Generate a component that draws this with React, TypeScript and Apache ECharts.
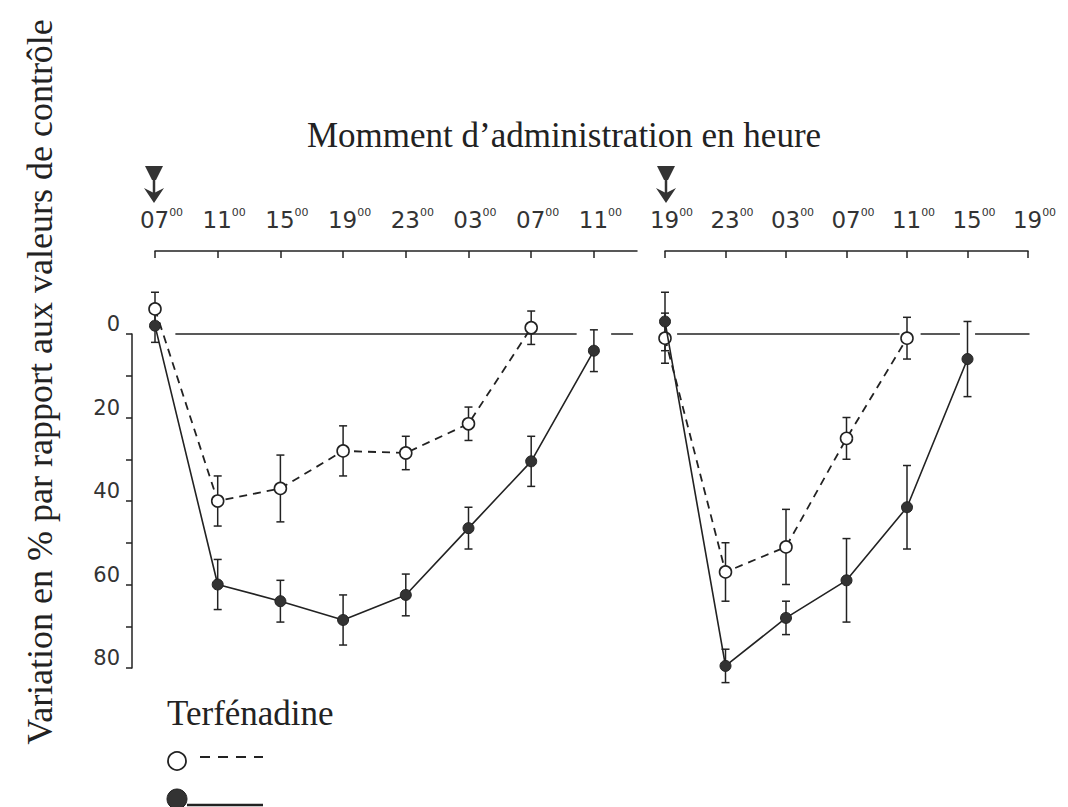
import React, { useEffect, useRef } from 'react';
import * as echarts from 'echarts';

// ---- Data (values in % variation vs control; time in hours after administration) ----
const leftTimes = [0, 4, 8, 12, 16, 20, 24, 28];
const leftHourLabels = ['07', '11', '15', '19', '23', '03', '07', '11'];
const leftOpen = [-6, 40, 37, 28, 28.5, 21.5, -1.5];
const leftOpenErr = [4, 6, 8, 6, 4, 4, 4];
const leftFilled = [-2, 60, 64, 68.5, 62.5, 46.5, 30.5, 4];
const leftFilledErr = [4, 6, 5, 6, 5, 5, 6, 5];

const rightTimes = [0, 4, 8, 12, 16, 20, 24];
const rightHourLabels = ['19', '23', '03', '07', '11', '15', '19'];
const rightOpen = [1, 57, 51, 25, 1];
const rightOpenErr = [6, 7, 9, 5, 5];
const rightFilled = [-3, 79.5, 68, 59, 41.5, 6];
const rightFilledErr = [7, 4, 4, 10, 10, 9];

const leftZeroSegments = [[1.3, 26.9], [29.1, 30.5]];
const rightZeroSegments = [[0.8, 15.5], [16.9, 19.5], [20.5, 24.1]];

const titleText = 'Momment d\u2019administration en heure';
const yTitleText = 'Variation en % par rapport aux valeurs de contr\u00f4le';
const legendTitle = 'Terf\u00e9nadine';

const INK = '#222';
const SERIF = '"Liberation Serif", "Times New Roman", serif';
const SANS = '"DejaVu Sans", sans-serif';

function pairs(times: number[], vals: number[]) {
  return vals.map((v, i) => [times[i], v]);
}
function triples(times: number[], vals: number[], errs: number[]) {
  return vals.map((v, i) => [times[i], v, errs[i]]);
}

const errorRender = (params: any, api: any) => {
  const x = api.value(0);
  const y = api.value(1);
  const e = api.value(2);
  const top = api.coord([x, y - e]);
  const bot = api.coord([x, y + e]);
  const w = 4;
  const st = { stroke: INK, lineWidth: 1.5 };
  return {
    type: 'group',
    children: [
      { type: 'line', shape: { x1: top[0], y1: top[1], x2: bot[0], y2: bot[1] }, style: st },
      { type: 'line', shape: { x1: top[0] - w, y1: top[1], x2: top[0] + w, y2: top[1] }, style: st },
      { type: 'line', shape: { x1: bot[0] - w, y1: bot[1], x2: bot[0] + w, y2: bot[1] }, style: st },
    ],
  };
};

const zeroRender = (params: any, api: any) => {
  const a = api.coord([api.value(0), 0]);
  const b = api.coord([api.value(1), 0]);
  return {
    type: 'line',
    shape: { x1: a[0], y1: a[1], x2: b[0], y2: b[1] },
    style: { stroke: INK, lineWidth: 1.5 },
  };
};

const richLabel = {
  h: { fontFamily: SANS, fontSize: 23, color: '#333', lineHeight: 26, padding: [0, 0, 0, 13] },
  m: { fontFamily: SANS, fontSize: 11, color: '#333', lineHeight: 12, verticalAlign: 'top' },
};

function makeXAxis(gridIndex: number, times: number[], labels: string[], max: number) {
  return {
    type: 'value',
    gridIndex,
    position: 'top',
    min: 0,
    max,
    interval: 4,
    offset: 83,
    axisLine: { show: true, onZero: false, lineStyle: { color: INK, width: 1.5 } },
    axisTick: { show: true, inside: true, length: 7, customValues: times, lineStyle: { color: INK, width: 1.5 } },
    axisLabel: {
      show: true,
      customValues: times,
      margin: 18,
      showMinLabel: true,
      showMaxLabel: true,
      hideOverlap: false,
      interval: 0,
      formatter: (v: number) => {
        const i = times.indexOf(v);
        if (i < 0) return '';
        return `{h|${labels[i]}}{m|00}`;
      },
      rich: richLabel,
    },
    splitLine: { show: false },
  };
}

function makeYAxis(gridIndex: number, show: boolean) {
  return {
    type: 'value',
    gridIndex,
    show,
    min: 0,
    max: 80,
    interval: 10,
    inverse: true,
    offset: 23,
    position: 'left',
    axisLine: { show: true, onZero: false, lineStyle: { color: INK, width: 1.5 } },
    axisTick: { show: true, length: 6, lineStyle: { color: INK, width: 1.5 } },
    axisLabel: {
      margin: 12,
      fontFamily: SANS,
      fontSize: 21,
      color: '#333',
      verticalAlign: 'bottom',
      lineHeight: 20,
      formatter: (v: number) => (v % 20 === 0 ? String(v) : ''),
    },
    splitLine: { show: false },
  };
}

function seriesFor(idx: number, times: number[], open: number[], openErr: number[], filled: number[], filledErr: number[], zeroSegs: number[][]) {
  return [
    {
      type: 'custom',
      xAxisIndex: idx,
      yAxisIndex: idx,
      clip: false,
      z: 1,
      silent: true,
      renderItem: zeroRender,
      encode: { x: [0, 1] },
      data: zeroSegs,
    },
    {
      type: 'custom',
      xAxisIndex: idx,
      yAxisIndex: idx,
      clip: false,
      z: 2,
      renderItem: errorRender,
      encode: { x: 0, y: 1 },
      data: triples(times, open, openErr),
    },
    {
      type: 'custom',
      xAxisIndex: idx,
      yAxisIndex: idx,
      clip: false,
      z: 2,
      renderItem: errorRender,
      encode: { x: 0, y: 1 },
      data: triples(times, filled, filledErr),
    },
    {
      type: 'line',
      name: 'open',
      xAxisIndex: idx,
      yAxisIndex: idx,
      clip: false,
      z: 3,
      data: pairs(times, open),
      symbol: 'circle',
      symbolSize: 12,
      showSymbol: true,
      lineStyle: { color: INK, width: 1.8, type: [8, 6] },
      itemStyle: { color: '#fff', borderColor: INK, borderWidth: 1.6 },
    },
    {
      type: 'line',
      name: 'filled',
      xAxisIndex: idx,
      yAxisIndex: idx,
      clip: false,
      z: 4,
      data: pairs(times, filled),
      symbol: 'circle',
      symbolSize: 11,
      showSymbol: true,
      lineStyle: { color: INK, width: 1.6, type: 'solid' },
      itemStyle: { color: '#333', borderColor: '#222', borderWidth: 1 },
    },
  ];
}

function arrow(x: number) {
  return {
    type: 'group',
    children: [
      { type: 'polygon', shape: { points: [[x - 9, 166], [x + 9, 166], [x + 2, 180], [x - 2, 180]] }, style: { fill: '#333' } },
      { type: 'line', shape: { x1: x, y1: 178, x2: x, y2: 196 }, style: { stroke: '#333', lineWidth: 2.5 } },
      { type: 'polygon', shape: { points: [[x - 10, 188], [x, 193], [x + 10, 188], [x, 203]] }, style: { fill: '#333' } },
    ],
  };
}

export default function App() {
  const ref = useRef<HTMLDivElement>(null);
  useEffect(() => {
    if (!ref.current) return;
    const chart = echarts.init(ref.current, undefined, { renderer: 'svg' });
    const option: any = {
      animation: false,
      backgroundColor: '#fff',
      grid: [
        { left: 155, top: 334, width: 482, height: 334, containLabel: false },
        { left: 665, top: 334, width: 363, height: 334, containLabel: false },
      ],
      xAxis: [
        makeXAxis(0, leftTimes, leftHourLabels, 30.75),
        makeXAxis(1, rightTimes, rightHourLabels, 24),
      ],
      yAxis: [makeYAxis(0, true), makeYAxis(1, false)],
      series: [
        ...seriesFor(0, leftTimes, leftOpen, leftOpenErr, leftFilled, leftFilledErr, leftZeroSegments),
        ...seriesFor(1, rightTimes, rightOpen, rightOpenErr, rightFilled, rightFilledErr, rightZeroSegments),
      ],
    };
    chart.setOption(option);

    const xl = chart.convertToPixel({ xAxisIndex: 0 }, leftTimes[0]) as number;
    const xr = chart.convertToPixel({ xAxisIndex: 1 }, rightTimes[0]) as number;

    const serifText = (text: string, size: number) => ({
      text,
      fontFamily: SERIF,
      fontSize: size,
      fontWeight: 'normal',
      fill: INK,
    });

    chart.setOption({
      graphic: [
        {
          type: 'text',
          x: 564,
          y: 135,
          style: { ...serifText(titleText, 35), align: 'center', verticalAlign: 'middle' },
        },
        {
          type: 'text',
          x: 40,
          y: 382,
          rotation: Math.PI / 2,
          style: { ...serifText(yTitleText, 36), align: 'center', verticalAlign: 'middle' },
        },
        arrow(xl - 1),
        arrow(xr + 1),
        {
          type: 'text',
          x: 167,
          y: 713,
          style: { ...serifText(legendTitle, 35), align: 'left', verticalAlign: 'middle' },
        },
        { type: 'circle', shape: { cx: 177, cy: 761, r: 9 }, style: { fill: '#fff', stroke: INK, lineWidth: 1.8 } },
        { type: 'line', shape: { x1: 200, y1: 757, x2: 263, y2: 757 }, style: { stroke: INK, lineWidth: 2, lineDash: [10, 8] } },
        { type: 'circle', shape: { cx: 177, cy: 799, r: 10 }, style: { fill: '#333', stroke: INK, lineWidth: 1 } },
        { type: 'line', shape: { x1: 187, y1: 805, x2: 263, y2: 805 }, style: { stroke: INK, lineWidth: 2.5 } },
      ],
    });

    return () => chart.dispose();
  }, []);
  return (
    <div
      ref={ref}
      style={{ position: 'fixed', left: 0, top: 0, width: 1068, height: 807, background: '#fff' }}
    />
  );
}
